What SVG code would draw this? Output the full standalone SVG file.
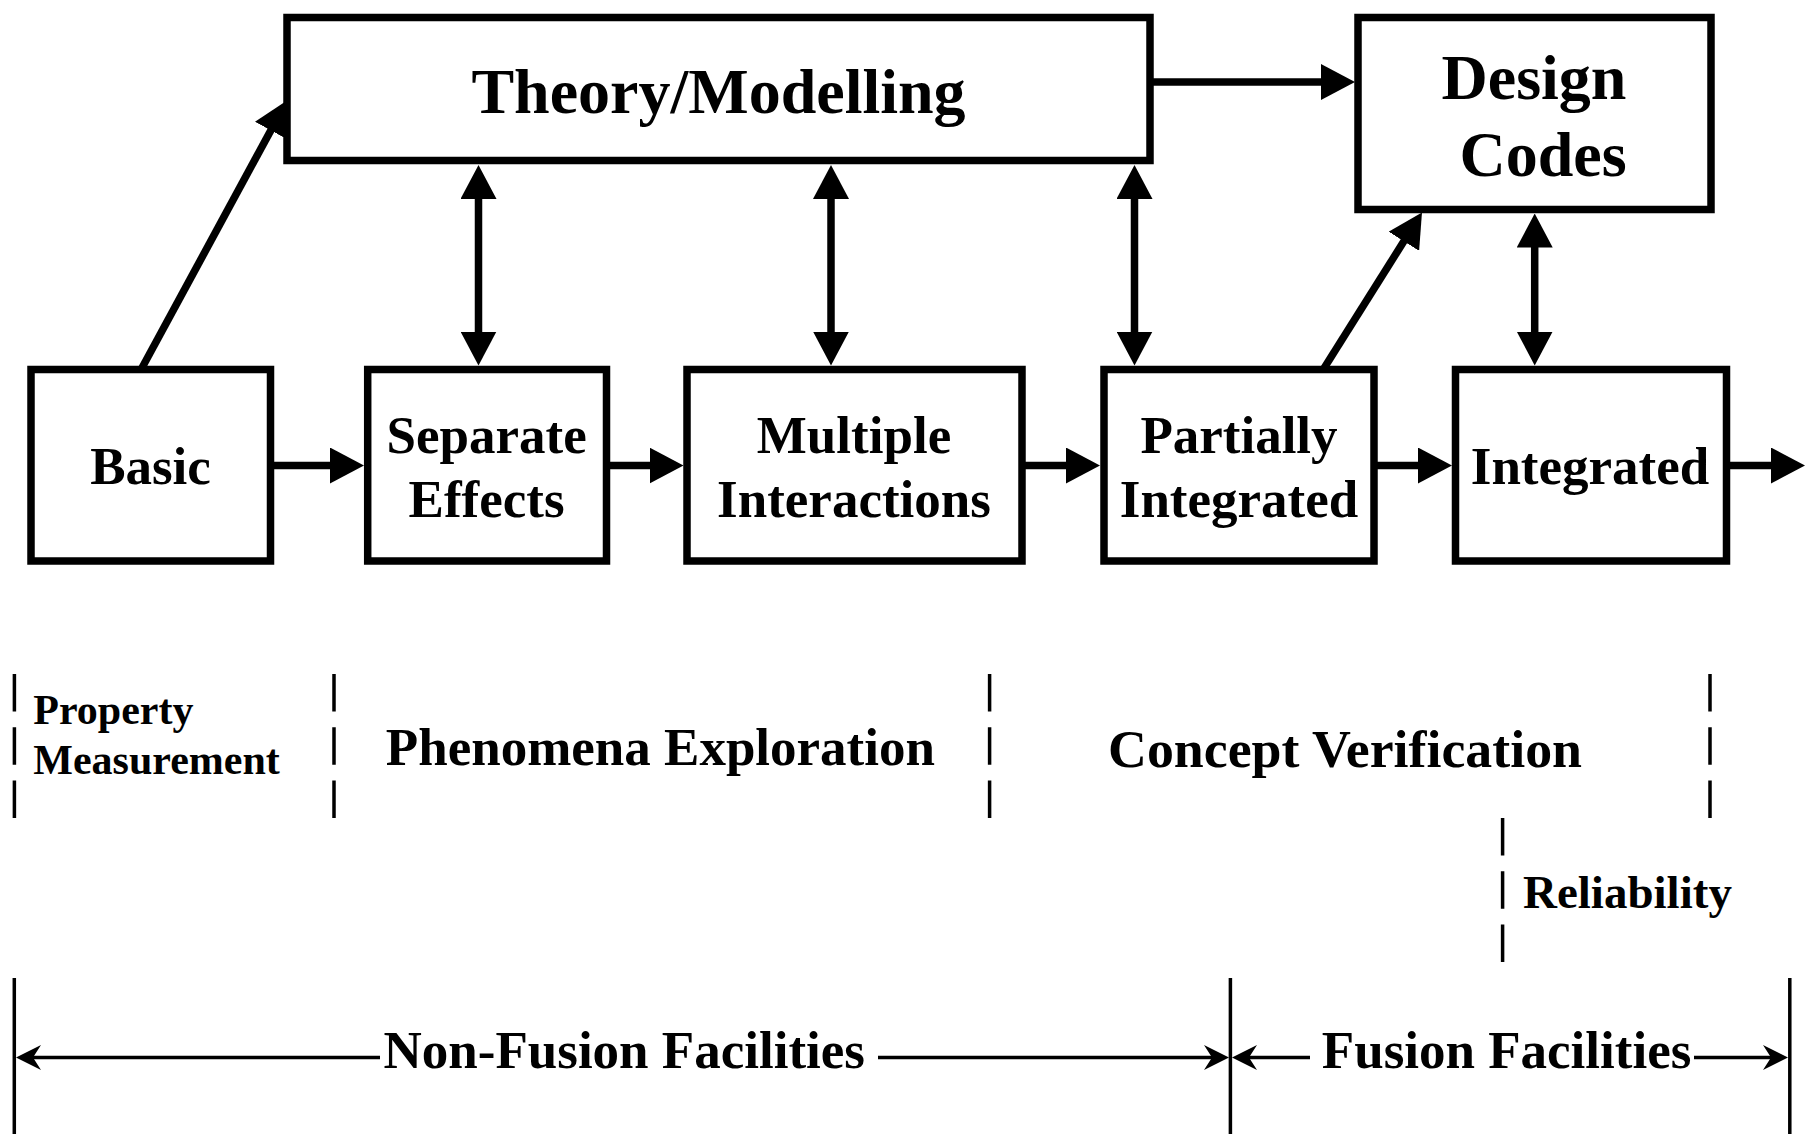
<svg xmlns="http://www.w3.org/2000/svg" width="1806" height="1134" viewBox="0 0 1806 1134">
<style>
  .box { fill: #fff; stroke: #000; stroke-width: 7.5; }
  .t { font-family: "Liberation Serif", "Times New Roman", serif; font-weight: bold; fill: #000; }
  .big { font-size: 64px; text-anchor: middle; }
  .mid { font-size: 53px; text-anchor: middle; }
  .lbl { font-size: 53px; }
  .conn { stroke: #000; stroke-width: 7.5; fill: none; }
  .dash { stroke: #000; stroke-width: 3.5; stroke-dasharray: 37.5 15.8; fill: none; }
  .thin { stroke: #000; stroke-width: 3.5; fill: none; }
</style>
<defs>
  <marker id="ah" markerUnits="userSpaceOnUse" viewBox="0 0 34 36" markerWidth="34" markerHeight="36" refX="10" refY="18" orient="auto-start-reverse">
    <path d="M0,0 L34,18 L0,36 z" fill="#000"/>
  </marker>
  <marker id="sh" markerUnits="userSpaceOnUse" viewBox="0 0 25 25" markerWidth="25" markerHeight="25" refX="20" refY="12.5" orient="auto-start-reverse">
    <path d="M0,0 L25,12.5 L0,25 L8,12.5 z" fill="#000"/>
  </marker>
</defs>
<rect width="1806" height="1134" fill="#fff"/>

<g id="connectors">
  <line class="conn" x1="141.1" y1="369.5" x2="275.6" y2="121.6" marker-end="url(#ah)"/>
  <line class="conn" x1="1150" y1="82" x2="1331" y2="82" marker-end="url(#ah)"/>
  <line class="conn" x1="478.5" y1="189" x2="478.5" y2="341.5" marker-start="url(#ah)" marker-end="url(#ah)"/>
  <line class="conn" x1="831" y1="189" x2="831" y2="341.5" marker-start="url(#ah)" marker-end="url(#ah)"/>
  <line class="conn" x1="1134.5" y1="189" x2="1134.5" y2="341.5" marker-start="url(#ah)" marker-end="url(#ah)"/>
  <line class="conn" x1="1534.7" y1="237.5" x2="1534.7" y2="341.5" marker-start="url(#ah)" marker-end="url(#ah)"/>
  <line class="conn" x1="1323.2" y1="369.5" x2="1409.2" y2="232.8" marker-end="url(#ah)"/>
  <line class="conn" x1="270.5" y1="465.5" x2="340" y2="465.5" marker-end="url(#ah)"/>
  <line class="conn" x1="606.5" y1="465.5" x2="659.5" y2="465.5" marker-end="url(#ah)"/>
  <line class="conn" x1="1022" y1="465.5" x2="1076" y2="465.5" marker-end="url(#ah)"/>
  <line class="conn" x1="1374" y1="465.5" x2="1428" y2="465.5" marker-end="url(#ah)"/>
  <line class="conn" x1="1726.5" y1="465.5" x2="1781" y2="465.5" marker-end="url(#ah)"/>
</g>

<g id="theory">
  <rect class="box" x="287" y="17.5" width="863" height="143"/>
  <text class="t big" x="718.5" y="112.7">Theory/Modelling</text>
</g>
<g id="design">
  <rect class="box" x="1358" y="17.5" width="353" height="192"/>
  <text class="t big" x="1534" y="99">Design</text>
  <text class="t big" x="1543" y="176">Codes</text>
</g>
<g id="basic">
  <rect class="box" x="31" y="369.5" width="239.5" height="191.5"/>
  <text class="t mid" x="150.5" y="484">Basic</text>
</g>
<g id="separate">
  <rect class="box" x="367.7" y="369.5" width="238.8" height="191.5"/>
  <text class="t mid" x="486.6" y="453.3">Separate</text>
  <text class="t mid" x="486.6" y="516.7">Effects</text>
</g>
<g id="multiple">
  <rect class="box" x="687" y="369.5" width="335" height="191.5"/>
  <text class="t mid" x="854" y="453.3">Multiple</text>
  <text class="t mid" x="854" y="516.7">Interactions</text>
</g>
<g id="partially">
  <rect class="box" x="1104" y="369.5" width="270" height="191.5"/>
  <text class="t mid" x="1239" y="453.3">Partially</text>
  <text class="t mid" x="1239" y="516.7">Integrated</text>
</g>
<g id="integrated">
  <rect class="box" x="1455.5" y="369.5" width="271" height="191.5"/>
  <text class="t mid" x="1590" y="484">Integrated</text>
</g>

<g id="phases">
  <line class="dash" x1="14.4" y1="674" x2="14.4" y2="818"/>
  <line class="dash" x1="334" y1="674" x2="334" y2="818"/>
  <line class="dash" x1="989.6" y1="674" x2="989.6" y2="818"/>
  <line class="dash" x1="1710" y1="674" x2="1710" y2="818"/>
  <line class="dash" x1="1502.6" y1="818" x2="1502.6" y2="962"/>
  <text class="t" x="33.3" y="724" font-size="42">Property</text>
  <text class="t" x="33.3" y="774" font-size="42">Measurement</text>
  <text class="t lbl" x="385.8" y="765">Phenomena Exploration</text>
  <text class="t lbl" x="1108" y="766.7" textLength="474" lengthAdjust="spacingAndGlyphs">Concept Verification</text>
  <text class="t" x="1523" y="908" font-size="47">Reliability</text>
</g>

<g id="facilities">
  <line class="thin" x1="14.3" y1="978" x2="14.3" y2="1134"/>
  <line class="thin" x1="1230.4" y1="978" x2="1230.4" y2="1134"/>
  <line class="thin" x1="1789.8" y1="978" x2="1789.8" y2="1134"/>
  <line class="thin" x1="380" y1="1057.5" x2="21" y2="1057.5" marker-end="url(#sh)"/>
  <line class="thin" x1="878" y1="1057.5" x2="1224" y2="1057.5" marker-end="url(#sh)"/>
  <line class="thin" x1="1310" y1="1057.5" x2="1237" y2="1057.5" marker-end="url(#sh)"/>
  <line class="thin" x1="1694" y1="1057.5" x2="1783" y2="1057.5" marker-end="url(#sh)"/>
  <text class="t lbl" x="383.5" y="1068">Non-Fusion Facilities</text>
  <text class="t lbl" x="1321.8" y="1068">Fusion Facilities</text>
</g>
</svg>
